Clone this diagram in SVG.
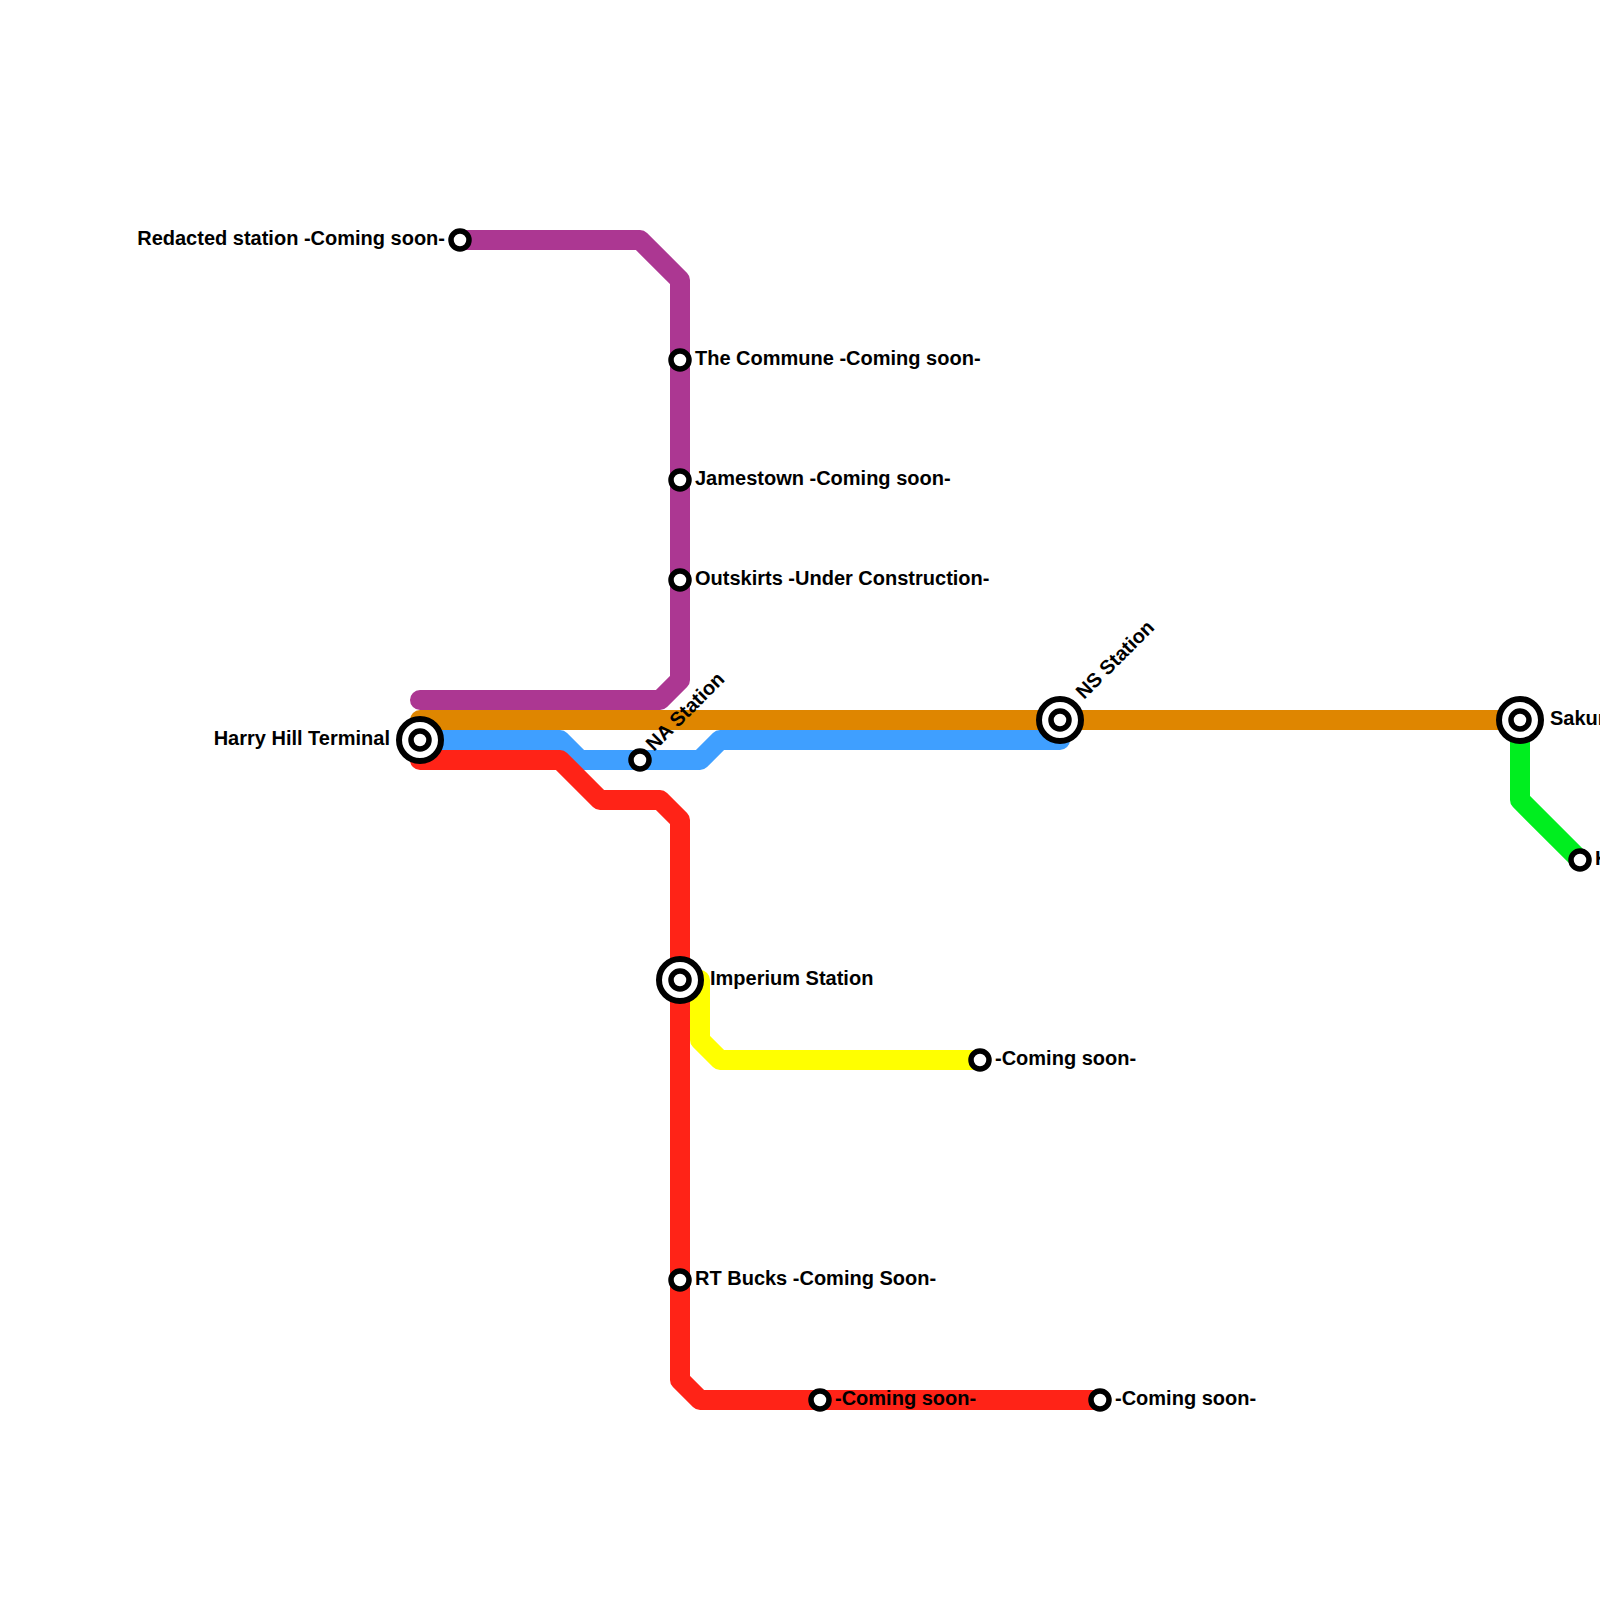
<svg xmlns="http://www.w3.org/2000/svg" width="1600" height="1600" viewBox="0 0 1600 1600">
<style>
.l{fill:none;stroke-width:20;stroke-linejoin:round;stroke-linecap:round}
.o{fill:#fff;stroke:#000;stroke-width:6}
.c{fill:#fff;stroke:#000;stroke-width:5.5}
text{font-family:"Liberation Sans",Arial,sans-serif;font-weight:700;font-size:20px;fill:#000}
</style>
<rect width="1600" height="1600" fill="#fff"/>
<g id="connectors">
<path class="l" stroke="#3f9fff" d="M420 740H560L580 760H700L720 740H1060"/>
<path class="l" stroke="#ff2317" d="M420 760H560L600 800H660L680 820V1380L700 1400H1100"/>
<path class="l" stroke="#df8600" d="M420 720H1520"/>
<path class="l" stroke="#ac3792" d="M420 700H660L680 680V280L640 240H460"/>
<path class="l" stroke="#ffff00" d="M700 980V1040L720 1060H980"/>
<path class="l" stroke="#00ee1f" d="M1520 720V800L1580 860"/>
</g>
<g id="harry-hill"><circle class="o" cx="420" cy="740" r="21"/><circle class="c" cx="420" cy="740" r="9"/><text x="390" y="745" text-anchor="end">Harry Hill Terminal</text></g>
<g id="redacted"><circle class="c" cx="460" cy="240" r="9"/><text x="445" y="245" text-anchor="end">Redacted station -Coming soon-</text></g>
<g id="commune"><circle class="c" cx="680" cy="360" r="9"/><text x="695" y="365">The Commune -Coming soon-</text></g>
<g id="jamestown"><circle class="c" cx="680" cy="480" r="9"/><text x="695" y="485">Jamestown -Coming soon-</text></g>
<g id="outskirts"><circle class="c" cx="680" cy="580" r="9"/><text x="695" y="585">Outskirts -Under Construction-</text></g>
<g id="na"><circle class="c" cx="640" cy="760" r="9"/><text transform="translate(654 752) rotate(-45)">NA Station</text></g>
<g id="ns"><circle class="o" cx="1060" cy="720" r="21"/><circle class="c" cx="1060" cy="720" r="9"/><text transform="translate(1084 700) rotate(-45)">NS Station</text></g>
<g id="sakura"><circle class="o" cx="1520" cy="720" r="21"/><circle class="c" cx="1520" cy="720" r="9"/><text x="1550" y="725">Sakura</text></g>
<g id="k"><circle class="c" cx="1580" cy="860" r="9"/><text x="1595" y="865">K</text></g>
<g id="imperium"><circle class="o" cx="680" cy="980" r="21"/><circle class="c" cx="680" cy="980" r="9"/><text x="710" y="985">Imperium Station</text></g>
<g id="yellow-end"><circle class="c" cx="980" cy="1060" r="9"/><text x="995" y="1065">-Coming soon-</text></g>
<g id="rt-bucks"><circle class="c" cx="680" cy="1280" r="9"/><text x="695" y="1285">RT Bucks -Coming Soon-</text></g>
<g id="red-mid"><circle class="c" cx="820" cy="1400" r="9"/><text x="835" y="1405">-Coming soon-</text></g>
<g id="red-end"><circle class="c" cx="1100" cy="1400" r="9"/><text x="1115" y="1405">-Coming soon-</text></g>
</svg>
